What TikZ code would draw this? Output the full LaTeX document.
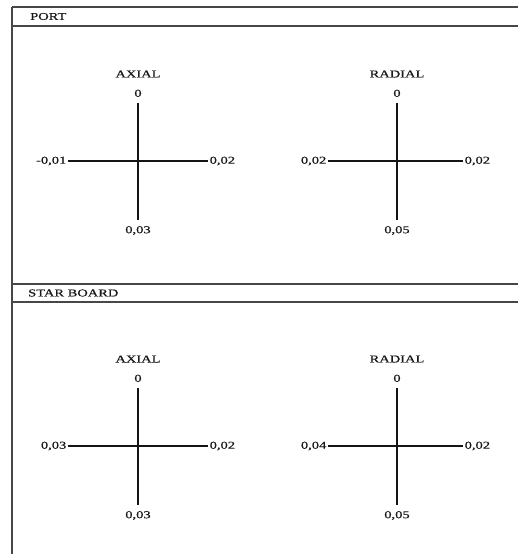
\documentclass[tikz,border=0pt]{standalone}
\usepackage{fontspec}
\setmainfont[FakeStretch=1.38,FakeBold=0.6]{Liberation Serif}
\usetikzlibrary{calc}

\tikzset{
  rule/.style={line width=1.8pt, draw=black!72},
  arm/.style={line width=2.4pt, draw=black!92},
  lbl/.style={font=\fontsize{10.5}{12}\selectfont, text=black!90, inner sep=0pt},
  head/.style={lbl, anchor=west},
}

% One cross diagram: #1 name, #2 centre x, #3 centre y, #4 left end x,
% #5 right end x, #6 title, #7 left value, #8 right value, #9 bottom value
\newcommand\crossdiag[9]{%
  \coordinate (#1-c) at (#2,#3);
  \coordinate (#1-t) at (#2,#3-58);
  \coordinate (#1-b) at (#2,#3+59);
  \coordinate (#1-l) at (#4,#3);
  \coordinate (#1-r) at (#5,#3);
  \node[lbl, anchor=south] (#1-tv) at ($(#1-t)+(0,-6)$) {0};
  \node[lbl] (#1-title) at ($(#1-c)+(0,-87)$) {#6};
  \node[lbl, anchor=east] (#1-lv) at ($(#1-l)+(-1.5,0)$) {#7};
  \node[lbl, anchor=west] (#1-rv) at ($(#1-r)+(1.5,0)$) {#8};
  \node[lbl, anchor=north] (#1-bv) at ($(#1-b)+(0,6)$) {#9};
  \draw[arm] (#1-t) -- (#1-b);
  \draw[arm] (#1-l) -- (#1-r);
}

\begin{document}
\begin{tikzpicture}[x=1pt,y=-1pt]
  \useasboundingbox (0,0) rectangle (518,554);
  \fill[white] (0,0) rectangle (518,554);

  % frame
  \coordinate (fTL) at (12,7);
  \coordinate (fBL) at (12,554);
  \coordinate (fTR) at (518,7);
  \draw[rule] (fTL) -- (fBL);
  \draw[rule] (fTL) -- (fTR);
  \draw[rule] (12,26) -- (518,26);
  \draw[rule] (12,284) -- (518,284);
  \draw[rule] (12,302) -- (518,302);

  % section headings
  \node[head] (port) at (30,16.5) {PORT};
  \node[head] (star) at (28,293) {STAR BOARD};

  % port side
  \crossdiag{pa}{138}{161}{68}{208}{AXIAL}{-0,01}{0,02}{0,03}
  \crossdiag{pr}{397}{161}{328}{463}{RADIAL}{0,02}{0,02}{0,05}

  % starboard side
  \crossdiag{sa}{138}{446}{68}{208}{AXIAL}{0,03}{0,02}{0,03}
  \crossdiag{sr}{397}{446}{328}{463}{RADIAL}{0,04}{0,02}{0,05}
\end{tikzpicture}
\end{document}
